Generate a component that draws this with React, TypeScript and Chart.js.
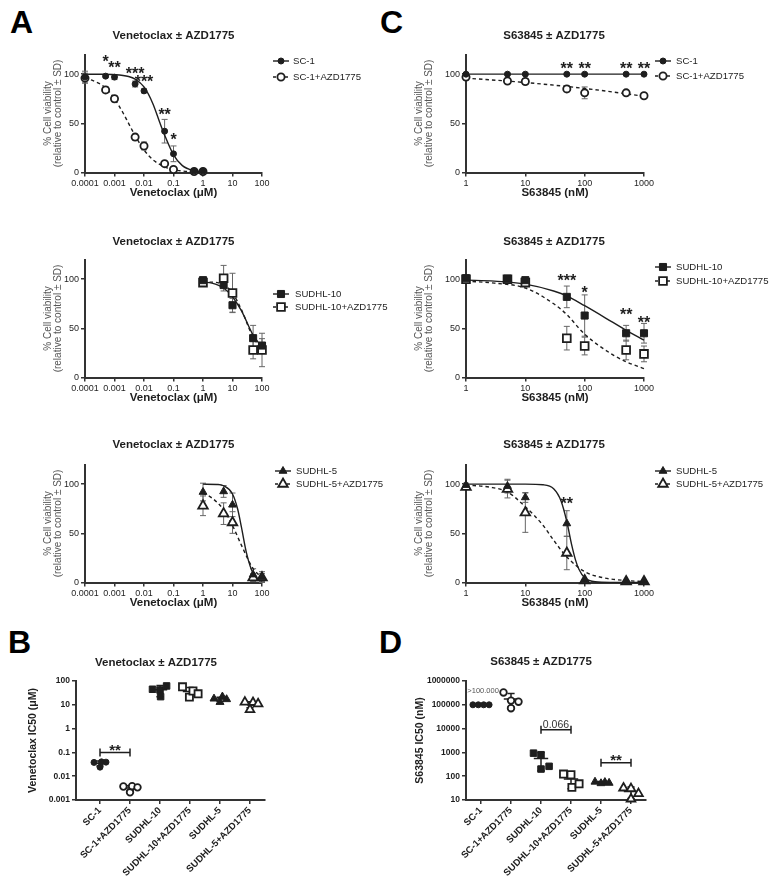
import React, { useEffect, useRef } from 'react';
import { Chart, registerables } from 'chart.js';

Chart.register(...registerables);

const FONT = "'Liberation Sans', Arial, Helvetica, sans-serif";
const INK = '#1e1e1e';

// ---------- shared ticks ----------
const VEN_X_TICKS = [0.0001, 0.001, 0.01, 0.1, 1, 10, 100];
const S63_X_TICKS = [1, 10, 100, 1000];
const VIAB_Y_TICKS = [0, 50, 100];

// ---------- Panel A1: SC-1, Venetoclax ----------
const SC1_VEN_DOSE = [0.0001, 0.0005, 0.001, 0.005, 0.01, 0.05, 0.1, 0.5, 1];
const SC1_VEN = [97, 98, 97, 90, 83, 42, 19, 1.5, 1.5];
const SC1_VEN_SD = [6, 1.5, 2.5, 3, 2, 12, 8, 1, 1];
const SC1_AZD_VEN = [96, 84, 75, 36, 27, 9, 3, 1, 1];
const SC1_AZD_VEN_SD = [5, 3, 3, 3, 4, 1.5, 1, 0.5, 0.5];
const SC1_VEN_FIT_X = [0.0001, 0.0003, 0.001, 0.003, 0.005, 0.01, 0.02, 0.035, 0.05, 0.1, 0.2, 0.5, 1];
const SC1_VEN_FIT = [100, 99.9, 99.5, 97.6, 95, 87, 70, 50, 38, 18, 7, 1.8, 0.7];
const SC1_AZD_VEN_FIT_X = [0.0001, 0.0005, 0.001, 0.002, 0.003, 0.005, 0.01, 0.02, 0.05, 0.1, 0.2, 0.5, 1];
const SC1_AZD_VEN_FIT = [97, 86, 75, 60, 50, 37.5, 23, 13, 5.7, 2.9, 1.5, 0.6, 0.3];
const SC1_VEN_STARS_X = [0.0005, 0.001, 0.005, 0.01, 0.05, 0.1];
const SC1_VEN_STARS_Y = [117, 110, 104, 96, 63, 37];
const SC1_VEN_STARS = ['*', '**', '***', '***', '**', '*'];

// ---------- Panel A2: SUDHL-10, Venetoclax ----------
const LYMPH_VEN_DOSE = [1, 5, 10, 50, 100];
const SUDHL10_VEN = [99, 94, 73.5, 40, 32.5];
const SUDHL10_VEN_SD = [2, 2, 7, 13, 7];
const SUDHL10_AZD_VEN = [96.5, 101, 86, 28, 28];
const SUDHL10_AZD_VEN_SD = [2, 13, 20, 9, 17];
const SUDHL10_VEN_FIT_X = [1, 2, 5, 10, 20, 50, 100];
const SUDHL10_VEN_FIT = [97, 96, 91, 82, 68, 43, 31];
const SUDHL10_AZD_VEN_FIT = [97, 97, 94, 86, 69, 41, 29];

// ---------- Panel A3: SUDHL-5, Venetoclax ----------
const SUDHL5_VEN = [92, 92.6, 79, 8, 5];
const SUDHL5_VEN_SD = [9, 6, 12, 6, 6];
const SUDHL5_AZD_VEN = [78, 70, 61, 5, 5];
const SUDHL5_AZD_VEN_SD = [10, 11, 11, 4, 4];
const SUDHL5_VEN_FIT_X = [1, 3, 5, 10, 15, 20, 30, 50, 100];
const SUDHL5_VEN_FIT = [100, 99.7, 98.4, 90, 74.5, 56.6, 29.6, 9.2, 1.4];
const SUDHL5_AZD_VEN_FIT_X = [1, 2, 5, 10, 20, 50, 100];
const SUDHL5_AZD_VEN_FIT = [91, 86, 74, 58, 38, 14, 5];

// ---------- Panel C1: SC-1, S63845 ----------
const S63_DOSE = [1, 5, 10, 50, 100, 500, 1000];
const SC1_S63 = [100, 100, 100, 100, 100, 100, 100];
const SC1_S63_SD = [1.5, 1, 1, 1, 1, 1, 1];
const SC1_AZD_S63 = [97, 93, 92.5, 85, 81, 81, 78];
const SC1_AZD_S63_SD = [3, 2, 3, 3, 6, 2, 2];
const SC1_S63_FIT_X = [1, 1000];
const SC1_S63_FIT = [100, 100];
const SC1_AZD_S63_FIT_X = [1, 10, 100, 1000];
const SC1_AZD_S63_FIT = [96, 91.5, 85.5, 77.6];
const SC1_S63_STARS_X = [50, 100, 500, 1000];
const SC1_S63_STARS_Y = [109, 109, 109, 109];
const SC1_S63_STARS = ['**', '**', '**', '**'];

// ---------- Panel C2: SUDHL-10, S63845 ----------
const SUDHL10_S63 = [101, 100.5, 99, 82, 63, 45, 45];
const SUDHL10_S63_SD = [1, 1, 1.5, 11, 21, 8, 10];
const SUDHL10_AZD_S63 = [100, 100, 96.5, 40, 32, 28, 24];
const SUDHL10_AZD_S63_SD = [1, 1, 2, 12, 9, 10, 8];
const SUDHL10_S63_FIT_X = [1, 3, 10, 30, 50, 100, 300, 500, 1000];
const SUDHL10_S63_FIT = [99, 98, 95, 88, 83, 73, 56, 48, 38];
const SUDHL10_AZD_S63_FIT = [98, 96, 91, 75, 64, 44, 23, 16, 9];
const SUDHL10_S63_STARS_X = [50, 100, 500, 1000];
const SUDHL10_S63_STARS_Y = [102, 90, 68, 60];
const SUDHL10_S63_STARS = ['***', '*', '**', '**'];

// ---------- Panel C3: SUDHL-5, S63845 ----------
const SUDHL5_S63 = [99, 98, 86.5, 60, 2, 1, 1];
const SUDHL5_S63_SD = [2, 7, 5, 13, 1, 1, 1];
const SUDHL5_AZD_S63 = [97, 95, 71, 30, 2, 1, 1];
const SUDHL5_AZD_S63_SD = [2, 9, 20, 17, 1, 1, 1];
const SUDHL5_S63_FIT_X = [1, 10, 20, 30, 40, 50, 60, 70, 80, 100, 150, 300, 1000];
const SUDHL5_S63_FIT = [100, 100, 99.4, 95.4, 83, 62, 39, 23, 13.4, 4.8, 0.7, 0.1, 0];
const SUDHL5_AZD_S63_FIT_X = [1, 2.5, 5, 10, 20, 30, 50, 100, 200, 500, 1000];
const SUDHL5_AZD_S63_FIT = [99, 97, 92, 77, 58, 43, 26, 11, 5, 2, 1];
const SUDHL5_S63_STARS_X = [50];
const SUDHL5_S63_STARS_Y = [84];
const SUDHL5_S63_STARS = ['**'];

// ---------- Panels B & D: IC50 ----------
const IC50_GROUPS = ['SC-1', 'SC-1+AZD1775', 'SUDHL-10', 'SUDHL-10+AZD1775', 'SUDHL-5', 'SUDHL-5+AZD1775'];
const B_Y_TICKS = [0.001, 0.01, 0.1, 1, 10, 100];
const D_Y_TICKS = [10, 100, 1000, 10000, 100000, 1000000];

const VEN_IC50_SC1 = [0.038, 0.04, 0.039, 0.024];
const VEN_IC50_SC1_AZD = [0.0037, 0.0021, 0.0038, 0.0034];
const VEN_IC50_SUDHL10 = [45, 42, 22, 62];
const VEN_IC50_SUDHL10_AZD = [57, 21, 38, 29];
const VEN_IC50_SUDHL5 = [18, 13, 22, 17];
const VEN_IC50_SUDHL5_AZD = [13, 6.3, 12.5, 11];
const VEN_IC50_JITTER = [
  [-0.2, 0.05, 0.2, 0],
  [-0.22, 0, 0.07, 0.25],
  [-0.25, 0, 0.02, 0.22],
  [-0.25, -0.02, 0.1, 0.27],
  [-0.2, 0, 0.08, 0.22],
  [-0.17, 0, 0.1, 0.27],
];
const VEN_IC50_MEAN = [0.035, 0.0032, 43, 36, 17.5, 10.5];
const VEN_IC50_LOW = [0.027, 0.0025, 22, 23, 14, 7.5];
const VEN_IC50_HIGH = [0.044, 0.004, 64, 53, 21, 13.5];

const S63_IC50_SC1 = [100000, 100000, 100000, 100000];
const S63_IC50_SC1_AZD = [330000, 150000, 135000, 72000];
const S63_IC50_SUDHL10 = [930, 800, 260, 200];
const S63_IC50_SUDHL10_AZD = [123, 115, 34, 48];
const S63_IC50_SUDHL5 = [58, 50, 56, 52];
const S63_IC50_SUDHL5_AZD = [32, 30, 18.5, 11];
const S63_IC50_JITTER = [
  [-0.27, -0.09, 0.09, 0.27],
  [-0.25, 0, 0.25, 0],
  [-0.25, 0, 0.27, 0],
  [-0.25, 0, 0.03, 0.27],
  [-0.2, 0, 0.13, 0.27],
  [-0.25, 0, 0.25, 0],
];
const S63_IC50_MEAN = [100000, 175000, 550, 76, 54, 23];
const S63_IC50_LOW = [100000, 78000, 170, 30, 48, 11.5];
const S63_IC50_HIGH = [100000, 300000, 980, 127, 60, 35];

// ---------- helpers ----------
type MarkerStyle = 'circle' | 'rect' | 'triangle';
interface Marker { style: MarkerStyle; r: number; filled: boolean }
const M_CIRCLE: Marker = { style: 'circle', r: 3, filled: true };
const M_OCIRCLE: Marker = { style: 'circle', r: 3.6, filled: false };
const M_RECT: Marker = { style: 'rect', r: 5, filled: true };
const M_ORECT: Marker = { style: 'rect', r: 5.5, filled: false };
const M_TRI: Marker = { style: 'triangle', r: 4.5, filled: true };
const M_OTRI: Marker = { style: 'triangle', r: 5.5, filled: false };
const IC50_MARKERS: Marker[] = [
  { style: 'circle', r: 3, filled: true },
  { style: 'circle', r: 3.3, filled: false },
  { style: 'rect', r: 4.6, filled: true },
  { style: 'rect', r: 5, filled: false },
  { style: 'triangle', r: 4.6, filled: true },
  { style: 'triangle', r: 5, filled: false },
];

function markerProps(m: Marker) {
  return {
    pointStyle: m.style,
    pointRadius: m.r,
    pointHoverRadius: m.r,
    pointBackgroundColor: m.filled ? INK : '#fff',
    pointBorderColor: INK,
    pointBorderWidth: m.filled ? 1 : 1.8,
  };
}

function drawMarker(ctx: CanvasRenderingContext2D, m: Marker, x: number, y: number) {
  ctx.save();
  ctx.beginPath();
  if (m.style === 'circle') ctx.arc(x, y, m.r, 0, Math.PI * 2);
  else if (m.style === 'rect') {
    const s = m.r * Math.SQRT1_2;
    ctx.rect(x - s, y - s, 2 * s, 2 * s);
  } else {
    for (let k = 0; k < 3; k++) {
      const a = (k * 2 * Math.PI) / 3;
      const px = x + Math.sin(a) * m.r;
      const py = y - Math.cos(a) * m.r;
      if (k === 0) ctx.moveTo(px, py);
      else ctx.lineTo(px, py);
    }
    ctx.closePath();
  }
  ctx.fillStyle = m.filled ? INK : '#fff';
  ctx.fill();
  ctx.lineWidth = m.filled ? 1 : 1.8;
  ctx.strokeStyle = INK;
  ctx.stroke();
  ctx.restore();
}

function drawStar(ctx: CanvasRenderingContext2D, text: string, x: number, cy: number, size: number) {
  ctx.save();
  ctx.font = `bold ${size}px ${FONT}`;
  ctx.fillStyle = INK;
  ctx.textAlign = 'center';
  ctx.textBaseline = 'alphabetic';
  ctx.fillText(text, x, cy + size * 0.57);
  ctx.restore();
}

const GRID = { display: true, drawOnChartArea: false, drawTicks: true, tickLength: 4, color: '#333', lineWidth: 1.5 };
const BORDER = { display: true, color: '#333', width: 2 };

interface Geo { w: number; h: number; left: number; right: number; top: number; bottom: number; yTitlePad: number; titleX: number; titleY: number }
interface Series { label: string; dose: number[]; mean: number[]; sd: number[]; fitX: number[]; fitY: number[]; dashed: boolean; marker: Marker }
interface LegendPos { mx: number; tx: number; ys: number[] }
interface DosePanelDef {
  title: string; xTitle: string; xMin: number; xMax: number; xTicks: number[];
  series: Series[]; starsX: number[]; starsY: number[]; stars: string[];
  legend: LegendPos; geo: Geo;
}

const errorBarsPlugin = {
  id: 'errorBars',
  beforeDatasetsDraw(chart: any) {
    const { ctx } = chart;
    const x = chart.scales.x;
    const y = chart.scales.y;
    chart.data.datasets.forEach((ds: any) => {
      if (!ds.errY) return;
      ctx.save();
      ctx.strokeStyle = '#666';
      ctx.lineWidth = 1;
      ds.data.forEach((p: any, i: number) => {
        const e = ds.errY[i];
        if (!e) return;
        const px = x.getPixelForValue(p.x);
        const top = y.getPixelForValue(p.y + e);
        const bot = y.getPixelForValue(Math.max(p.y - e, 0));
        ctx.beginPath();
        ctx.moveTo(px, top); ctx.lineTo(px, bot);
        ctx.moveTo(px - 3, top); ctx.lineTo(px + 3, top);
        ctx.moveTo(px - 3, bot); ctx.lineTo(px + 3, bot);
        ctx.stroke();
      });
      ctx.restore();
    });
  },
};

function titleDraw(ctx: CanvasRenderingContext2D, text: string, x: number, y: number) {
  ctx.save();
  ctx.font = `bold 11.5px ${FONT}`;
  ctx.fillStyle = INK;
  ctx.textAlign = 'center';
  ctx.textBaseline = 'middle';
  ctx.fillText(text, x, y);
  ctx.restore();
}

function doseDeco(p: DosePanelDef) {
  return {
    id: 'doseDeco',
    afterDraw(chart: any) {
      const { ctx } = chart;
      const x = chart.scales.x;
      const y = chart.scales.y;
      titleDraw(ctx, p.title, p.geo.titleX, p.geo.titleY);
      p.series.forEach((s, k) => {
        const ly = p.legend.ys[k];
        ctx.save();
        ctx.strokeStyle = INK;
        ctx.lineWidth = 1.4;
        ctx.setLineDash(s.dashed ? [3, 3] : []);
        ctx.beginPath();
        ctx.moveTo(p.legend.mx - 8, ly);
        ctx.lineTo(p.legend.mx + 8, ly);
        ctx.stroke();
        ctx.restore();
        drawMarker(ctx, s.marker, p.legend.mx, ly);
        ctx.save();
        ctx.font = `9.6px ${FONT}`;
        ctx.fillStyle = INK;
        ctx.textAlign = 'left';
        ctx.textBaseline = 'middle';
        ctx.fillText(s.label, p.legend.tx, ly);
        ctx.restore();
      });
      p.stars.forEach((t, i) => {
        drawStar(ctx, t, x.getPixelForValue(p.starsX[i]), y.getPixelForValue(p.starsY[i]), 16);
      });
    },
  };
}

function doseConfig(p: DosePanelDef): any {
  const g = p.geo;
  const datasets: any[] = [];
  p.series.forEach((s) =>
    datasets.push({
      label: s.label,
      data: s.dose.map((d, i) => ({ x: d, y: s.mean[i] })),
      errY: s.sd,
      showLine: false,
      clip: false,
      ...markerProps(s.marker),
    })
  );
  p.series.forEach((s) =>
    datasets.push({
      label: s.label + ' fit',
      data: s.fitX.map((d, i) => ({ x: d, y: s.fitY[i] })),
      showLine: true,
      clip: false,
      borderColor: INK,
      borderWidth: 1.4,
      borderDash: s.dashed ? [3.5, 3] : [],
      pointRadius: 0,
      pointHoverRadius: 0,
      cubicInterpolationMode: 'monotone',
      fill: false,
    })
  );
  return {
    type: 'scatter',
    data: { datasets },
    options: {
      responsive: false,
      animation: false,
      events: [],
      layout: { padding: { left: 0, top: g.top, right: g.w - g.right, bottom: 0 } },
      plugins: { legend: { display: false }, tooltip: { enabled: false }, title: { display: false } },
      scales: {
        x: {
          type: 'logarithmic',
          min: p.xMin,
          max: p.xMax,
          afterBuildTicks: (s: any) => { s.ticks = p.xTicks.map((v) => ({ value: v })); },
          afterFit: (s: any) => { s.height = g.h - g.bottom; },
          ticks: { callback: (v: any) => String(v), font: { family: FONT, size: 9 }, color: INK, padding: 2, autoSkip: false, maxRotation: 0 },
          grid: GRID,
          border: BORDER,
          title: { display: true, text: p.xTitle, color: INK, font: { family: FONT, size: 11.5, weight: 'bold', lineHeight: 1.2 }, padding: { top: 0, bottom: 5 } },
        },
        y: {
          type: 'linear',
          min: 0,
          max: 120,
          afterBuildTicks: (s: any) => { s.ticks = VIAB_Y_TICKS.map((v) => ({ value: v })); },
          afterFit: (s: any) => { s.width = g.left; },
          ticks: { callback: (v: any) => String(v), font: { family: FONT, size: 9 }, color: INK, padding: 2 },
          grid: GRID,
          border: BORDER,
          title: { display: true, text: ['% Cell viability', '(relative to control \u00b1 SD)'], color: '#555', font: { family: FONT, size: 10, lineHeight: 0.95 }, padding: { top: g.yTitlePad, bottom: 0 } },
        },
      },
    },
    plugins: [errorBarsPlugin, doseDeco(p)],
  };
}

interface Bracket { from: number; to: number; y: number; text: string; star: boolean }
interface Note { x: number; y: number; text: string }
interface Ic50Def {
  title: string; yTitle: string; yMin: number; yMax: number; yTicks: number[];
  values: number[][]; jitter: number[][]; mean: number[]; low: number[]; high: number[];
  xMin: number; xMax: number; brackets: Bracket[]; notes: Note[]; geo: Geo;
}

function ic50Deco(p: Ic50Def) {
  return {
    id: 'ic50Deco',
    beforeDatasetsDraw(chart: any) {
      const { ctx } = chart;
      const x = chart.scales.x;
      const y = chart.scales.y;
      ctx.save();
      ctx.strokeStyle = INK;
      ctx.lineWidth = 1.5;
      p.mean.forEach((m, i) => {
        const ym = y.getPixelForValue(m);
        const yl = y.getPixelForValue(p.low[i]);
        const yh = y.getPixelForValue(p.high[i]);
        ctx.beginPath();
        ctx.moveTo(x.getPixelForValue(i - 0.24), ym);
        ctx.lineTo(x.getPixelForValue(i + 0.24), ym);
        if (Math.abs(yl - yh) > 0.5) {
          const c0 = x.getPixelForValue(i - 0.12);
          const c1 = x.getPixelForValue(i + 0.12);
          const xc = x.getPixelForValue(i);
          ctx.moveTo(xc, yh); ctx.lineTo(xc, yl);
          ctx.moveTo(c0, yh); ctx.lineTo(c1, yh);
          ctx.moveTo(c0, yl); ctx.lineTo(c1, yl);
        }
        ctx.stroke();
      });
      ctx.restore();
    },
    afterDraw(chart: any) {
      const { ctx } = chart;
      const x = chart.scales.x;
      const y = chart.scales.y;
      titleDraw(ctx, p.title, p.geo.titleX, p.geo.titleY);
      p.brackets.forEach((b) => {
        const x0 = x.getPixelForValue(b.from);
        const x1 = x.getPixelForValue(b.to);
        const yy = y.getPixelForValue(b.y);
        ctx.save();
        ctx.strokeStyle = INK;
        ctx.lineWidth = 1.5;
        ctx.beginPath();
        ctx.moveTo(x0, yy); ctx.lineTo(x1, yy);
        ctx.moveTo(x0, yy - 4); ctx.lineTo(x0, yy + 4);
        ctx.moveTo(x1, yy - 4); ctx.lineTo(x1, yy + 4);
        ctx.stroke();
        ctx.restore();
        if (b.star) drawStar(ctx, b.text, (x0 + x1) / 2, yy - 6, 15);
        else {
          ctx.save();
          ctx.font = `10.5px ${FONT}`;
          ctx.fillStyle = '#333';
          ctx.textAlign = 'center';
          ctx.textBaseline = 'alphabetic';
          ctx.fillText(b.text, (x0 + x1) / 2, yy - 2);
          ctx.restore();
        }
      });
      p.notes.forEach((n) => {
        ctx.save();
        ctx.font = `7.5px ${FONT}`;
        ctx.fillStyle = '#555';
        ctx.textAlign = 'center';
        ctx.textBaseline = 'middle';
        ctx.fillText(n.text, x.getPixelForValue(n.x), y.getPixelForValue(n.y));
        ctx.restore();
      });
    },
  };
}

function ic50Config(p: Ic50Def): any {
  const g = p.geo;
  const datasets = p.values.map((vals, i) => ({
    label: IC50_GROUPS[i],
    data: vals.map((v, k) => ({ x: i + p.jitter[i][k], y: v })),
    showLine: false,
    clip: false,
    ...markerProps(IC50_MARKERS[i]),
  }));
  return {
    type: 'scatter',
    data: { datasets },
    options: {
      responsive: false,
      animation: false,
      events: [],
      layout: { padding: { left: 0, top: g.top, right: g.w - g.right, bottom: 0 } },
      plugins: { legend: { display: false }, tooltip: { enabled: false }, title: { display: false } },
      scales: {
        x: {
          type: 'linear',
          min: p.xMin,
          max: p.xMax,
          afterBuildTicks: (s: any) => { s.ticks = IC50_GROUPS.map((_, i) => ({ value: i })); },
          afterFit: (s: any) => { s.height = g.h - g.bottom; },
          ticks: {
            callback: (v: any) => IC50_GROUPS[Math.round(Number(v))],
            font: { family: FONT, size: 9.5, weight: 'bold' },
            color: INK,
            padding: 1,
            autoSkip: false,
            minRotation: 45,
            maxRotation: 45,
          },
          grid: GRID,
          border: BORDER,
        },
        y: {
          type: 'logarithmic',
          min: p.yMin,
          max: p.yMax,
          afterBuildTicks: (s: any) => { s.ticks = p.yTicks.map((v) => ({ value: v })); },
          afterFit: (s: any) => { s.width = g.left; },
          ticks: { callback: (v: any) => String(v), font: { family: FONT, size: 8.5, weight: 'bold' }, color: INK, padding: 2 },
          grid: GRID,
          border: BORDER,
          title: { display: true, text: p.yTitle, color: INK, font: { family: FONT, size: 10.5, weight: 'bold', lineHeight: 1.2 }, padding: { top: g.yTitlePad, bottom: 0 } },
        },
      },
    },
    plugins: [ic50Deco(p)],
  };
}

// ---------- panel definitions ----------
const GEO_A = (titleY: number): Geo => ({ w: 390, h: 205, left: 85, right: 262, top: 54.5, bottom: 172.5, yTitlePad: 43.5, titleX: 173.5, titleY });
const GEO_C = (titleY: number): Geo => ({ w: 383, h: 205, left: 76, right: 254, top: 54.5, bottom: 172.5, yTitlePad: 24.5, titleX: 164, titleY });

const VEN_TITLE = 'Venetoclax \u00b1 AZD1775';
const S63_TITLE = 'S63845 \u00b1 AZD1775';

const A1: DosePanelDef = {
  title: VEN_TITLE, xTitle: 'Venetoclax (\u03bcM)', xMin: 0.0001, xMax: 100, xTicks: VEN_X_TICKS,
  series: [
    { label: 'SC-1', dose: SC1_VEN_DOSE, mean: SC1_VEN, sd: SC1_VEN_SD, fitX: SC1_VEN_FIT_X, fitY: SC1_VEN_FIT, dashed: false, marker: M_CIRCLE },
    { label: 'SC-1+AZD1775', dose: SC1_VEN_DOSE, mean: SC1_AZD_VEN, sd: SC1_AZD_VEN_SD, fitX: SC1_AZD_VEN_FIT_X, fitY: SC1_AZD_VEN_FIT, dashed: true, marker: M_OCIRCLE },
  ],
  starsX: SC1_VEN_STARS_X, starsY: SC1_VEN_STARS_Y, stars: SC1_VEN_STARS,
  legend: { mx: 281, tx: 293, ys: [61, 77] }, geo: GEO_A(36),
};
const A2: DosePanelDef = {
  title: VEN_TITLE, xTitle: 'Venetoclax (\u03bcM)', xMin: 0.0001, xMax: 100, xTicks: VEN_X_TICKS,
  series: [
    { label: 'SUDHL-10', dose: LYMPH_VEN_DOSE, mean: SUDHL10_VEN, sd: SUDHL10_VEN_SD, fitX: SUDHL10_VEN_FIT_X, fitY: SUDHL10_VEN_FIT, dashed: false, marker: M_RECT },
    { label: 'SUDHL-10+AZD1775', dose: LYMPH_VEN_DOSE, mean: SUDHL10_AZD_VEN, sd: SUDHL10_AZD_VEN_SD, fitX: SUDHL10_VEN_FIT_X, fitY: SUDHL10_AZD_VEN_FIT, dashed: true, marker: M_ORECT },
  ],
  starsX: [], starsY: [], stars: [],
  legend: { mx: 281, tx: 295, ys: [89, 102] }, geo: GEO_A(37),
};
const A3: DosePanelDef = {
  title: VEN_TITLE, xTitle: 'Venetoclax (\u03bcM)', xMin: 0.0001, xMax: 100, xTicks: VEN_X_TICKS,
  series: [
    { label: 'SUDHL-5', dose: LYMPH_VEN_DOSE, mean: SUDHL5_VEN, sd: SUDHL5_VEN_SD, fitX: SUDHL5_VEN_FIT_X, fitY: SUDHL5_VEN_FIT, dashed: false, marker: M_TRI },
    { label: 'SUDHL-5+AZD1775', dose: LYMPH_VEN_DOSE, mean: SUDHL5_AZD_VEN, sd: SUDHL5_AZD_VEN_SD, fitX: SUDHL5_AZD_VEN_FIT_X, fitY: SUDHL5_AZD_VEN_FIT, dashed: true, marker: M_OTRI },
  ],
  starsX: [], starsY: [], stars: [],
  legend: { mx: 283, tx: 296, ys: [61, 74] }, geo: GEO_A(35),
};
const C1: DosePanelDef = {
  title: S63_TITLE, xTitle: 'S63845 (nM)', xMin: 1, xMax: 1000, xTicks: S63_X_TICKS,
  series: [
    { label: 'SC-1', dose: S63_DOSE, mean: SC1_S63, sd: SC1_S63_SD, fitX: SC1_S63_FIT_X, fitY: SC1_S63_FIT, dashed: false, marker: M_CIRCLE },
    { label: 'SC-1+AZD1775', dose: S63_DOSE, mean: SC1_AZD_S63, sd: SC1_AZD_S63_SD, fitX: SC1_AZD_S63_FIT_X, fitY: SC1_AZD_S63_FIT, dashed: true, marker: M_OCIRCLE },
  ],
  starsX: SC1_S63_STARS_X, starsY: SC1_S63_STARS_Y, stars: SC1_S63_STARS,
  legend: { mx: 273, tx: 286, ys: [61, 76] }, geo: GEO_C(36),
};
const C2: DosePanelDef = {
  title: S63_TITLE, xTitle: 'S63845 (nM)', xMin: 1, xMax: 1000, xTicks: S63_X_TICKS,
  series: [
    { label: 'SUDHL-10', dose: S63_DOSE, mean: SUDHL10_S63, sd: SUDHL10_S63_SD, fitX: SUDHL10_S63_FIT_X, fitY: SUDHL10_S63_FIT, dashed: false, marker: M_RECT },
    { label: 'SUDHL-10+AZD1775', dose: S63_DOSE, mean: SUDHL10_AZD_S63, sd: SUDHL10_AZD_S63_SD, fitX: SUDHL10_S63_FIT_X, fitY: SUDHL10_AZD_S63_FIT, dashed: true, marker: M_ORECT },
  ],
  starsX: SUDHL10_S63_STARS_X, starsY: SUDHL10_S63_STARS_Y, stars: SUDHL10_S63_STARS,
  legend: { mx: 273, tx: 286, ys: [62, 76] }, geo: GEO_C(37),
};
const C3: DosePanelDef = {
  title: S63_TITLE, xTitle: 'S63845 (nM)', xMin: 1, xMax: 1000, xTicks: S63_X_TICKS,
  series: [
    { label: 'SUDHL-5', dose: S63_DOSE, mean: SUDHL5_S63, sd: SUDHL5_S63_SD, fitX: SUDHL5_S63_FIT_X, fitY: SUDHL5_S63_FIT, dashed: false, marker: M_TRI },
    { label: 'SUDHL-5+AZD1775', dose: S63_DOSE, mean: SUDHL5_AZD_S63, sd: SUDHL5_AZD_S63_SD, fitX: SUDHL5_AZD_S63_FIT_X, fitY: SUDHL5_AZD_S63_FIT, dashed: true, marker: M_OTRI },
  ],
  starsX: SUDHL5_S63_STARS_X, starsY: SUDHL5_S63_STARS_Y, stars: SUDHL5_S63_STARS,
  legend: { mx: 273, tx: 286, ys: [61, 74] }, geo: GEO_C(35),
};

const B: Ic50Def = {
  title: VEN_TITLE, yTitle: 'Venetoclax IC50 (\u03bcM)', yMin: 0.001, yMax: 100, yTicks: B_Y_TICKS,
  values: [VEN_IC50_SC1, VEN_IC50_SC1_AZD, VEN_IC50_SUDHL10, VEN_IC50_SUDHL10_AZD, VEN_IC50_SUDHL5, VEN_IC50_SUDHL5_AZD],
  jitter: VEN_IC50_JITTER, mean: VEN_IC50_MEAN, low: VEN_IC50_LOW, high: VEN_IC50_HIGH,
  xMin: -0.8, xMax: 5.5,
  brackets: [{ from: 0, to: 1, y: 0.1, text: '**', star: true }],
  notes: [],
  geo: { w: 390, h: 265, left: 76, right: 265, top: 61, bottom: 180, yTitlePad: 27, titleX: 156, titleY: 43 },
};
const D: Ic50Def = {
  title: S63_TITLE, yTitle: 'S63845 IC50 (nM)', yMin: 10, yMax: 1000000, yTicks: D_Y_TICKS,
  values: [S63_IC50_SC1, S63_IC50_SC1_AZD, S63_IC50_SUDHL10, S63_IC50_SUDHL10_AZD, S63_IC50_SUDHL5, S63_IC50_SUDHL5_AZD],
  jitter: S63_IC50_JITTER, mean: S63_IC50_MEAN, low: S63_IC50_LOW, high: S63_IC50_HIGH,
  xMin: -0.5, xMax: 5.5,
  brackets: [
    { from: 2, to: 3, y: 9000, text: '0.066', star: false },
    { from: 4, to: 5, y: 370, text: '**', star: true },
  ],
  notes: [{ x: 0.07, y: 380000, text: '>100.000' }],
  geo: { w: 383, h: 265, left: 76, right: 256, top: 61, bottom: 180, yTitlePad: 24, titleX: 151, titleY: 42 },
};

function ChartBox({ left, top, width, height, config }: { left: number; top: number; width: number; height: number; config: () => any }) {
  const ref = useRef<HTMLCanvasElement>(null);
  useEffect(() => {
    const chart = new Chart(ref.current as HTMLCanvasElement, config());
    return () => chart.destroy();
  }, []);
  return (
    <canvas
      ref={ref}
      width={width}
      height={height}
      style={{ position: 'absolute', left, top, width, height, display: 'block' }}
    />
  );
}

const letterStyle = (left: number, top: number): React.CSSProperties => ({
  position: 'absolute', left, top, fontFamily: FONT, fontWeight: 'bold', fontSize: 32, lineHeight: '32px', color: '#000',
});

export default function App() {
  return (
    <div style={{ position: 'absolute', left: 0, top: 0, width: 773, height: 885, background: '#fff', overflow: 'hidden' }}>
      <div style={letterStyle(10, 6)}>A</div>
      <div style={letterStyle(380, 6)}>C</div>
      <div style={letterStyle(8, 626)}>B</div>
      <div style={letterStyle(379, 626)}>D</div>
      <ChartBox left={0} top={0} width={390} height={205} config={() => doseConfig(A1)} />
      <ChartBox left={0} top={205} width={390} height={205} config={() => doseConfig(A2)} />
      <ChartBox left={0} top={410} width={390} height={205} config={() => doseConfig(A3)} />
      <ChartBox left={390} top={0} width={383} height={205} config={() => doseConfig(C1)} />
      <ChartBox left={390} top={205} width={383} height={205} config={() => doseConfig(C2)} />
      <ChartBox left={390} top={410} width={383} height={205} config={() => doseConfig(C3)} />
      <ChartBox left={0} top={620} width={390} height={265} config={() => ic50Config(B)} />
      <ChartBox left={390} top={620} width={383} height={265} config={() => ic50Config(D)} />
    </div>
  );
}
